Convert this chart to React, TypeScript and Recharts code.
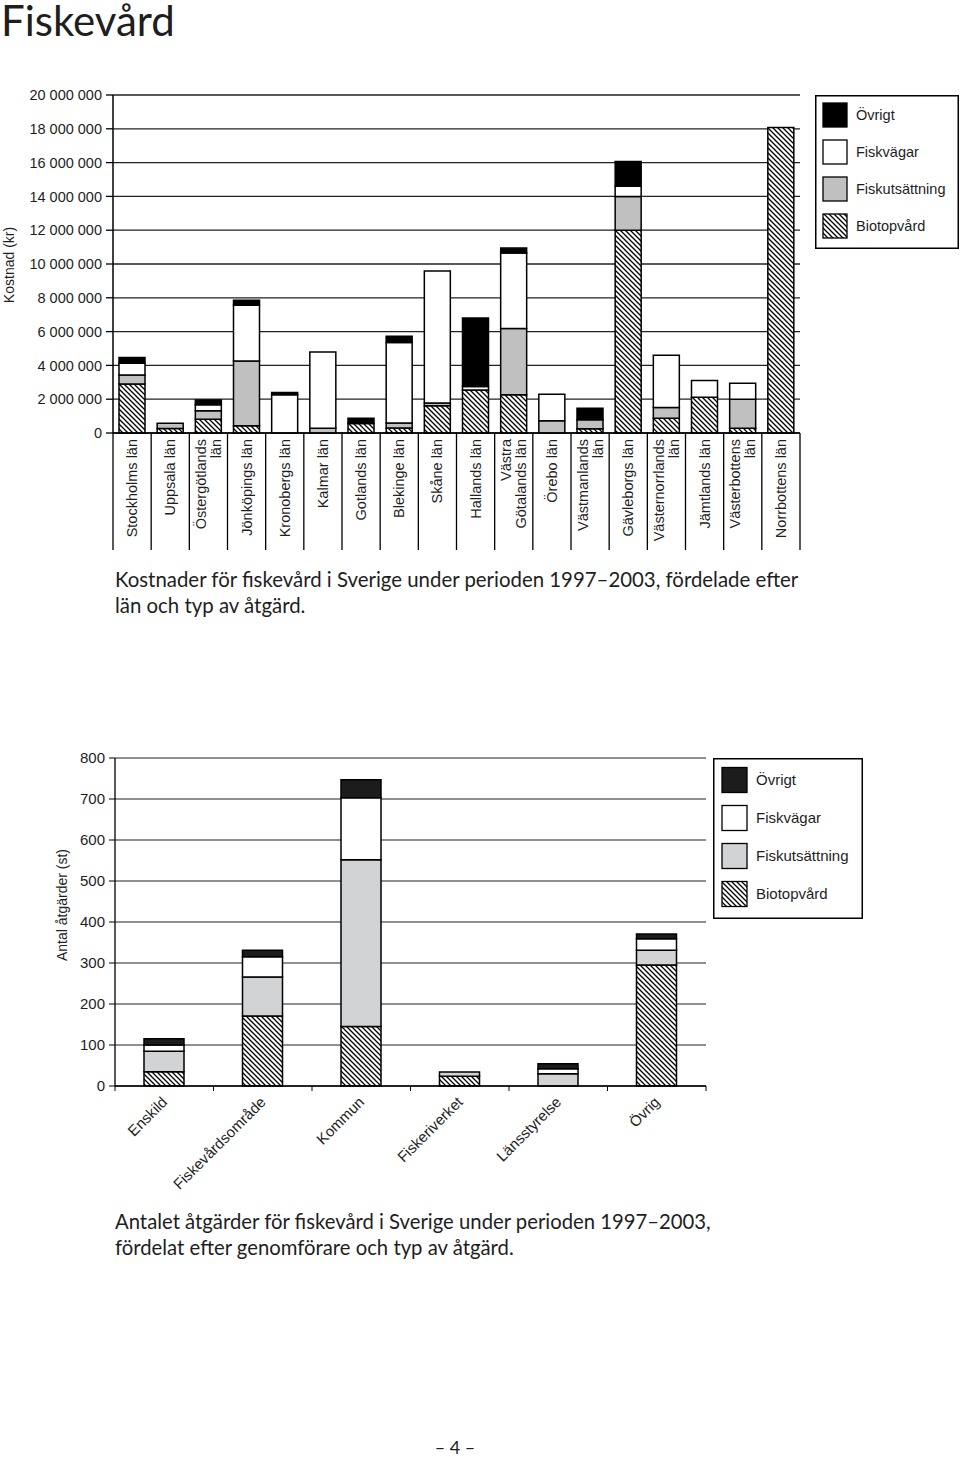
import React from 'react';
import { BarChart, Bar, XAxis, YAxis, CartesianGrid, Legend, Label } from 'recharts';

// ---------- Data: chart 1 (cost per county, kr) ----------
const counties = [
  'Stockholms län', 'Uppsala län', 'Östergötlands län', 'Jönköpings län', 'Kronobergs län',
  'Kalmar län', 'Gotlands län', 'Blekinge län', 'Skåne län', 'Hallands län',
  'Västra Götalands län', 'Örebo län', 'Västmanlands län', 'Gävleborgs län',
  'Västernorrlands län', 'Jämtlands län', 'Västerbottens län', 'Norrbottens län',
];
const countyTickLabels = [
  'Stockholms län', 'Uppsala län', 'Östergötlands\nlän', 'Jönköpings län', 'Kronobergs län',
  'Kalmar län', 'Gotlands län', 'Blekinge län', 'Skåne län', 'Hallands län',
  'Västra\nGötalands län', 'Örebo län', 'Västmanlands\nlän', 'Gävleborgs län',
  'Västernorrlands\nlän', 'Jämtlands län', 'Västerbottens\nlän', 'Norrbottens län',
];
const costBiotop = [2900000, 270000, 820000, 430000, 0, 0, 560000, 290000, 1610000, 2550000, 2260000, 0, 250000, 12000000, 880000, 2120000, 280000, 18070000];
const costFiskut = [530000, 300000, 490000, 3830000, 0, 280000, 0, 300000, 160000, 0, 3930000, 730000, 530000, 2000000, 630000, 0, 1720000, 0];
const costFiskvag = [690000, 0, 360000, 3300000, 2260000, 4510000, 0, 4770000, 7820000, 200000, 4460000, 1570000, 0, 600000, 3090000, 980000, 950000, 0];
const costOvrigt = [350000, 0, 290000, 300000, 140000, 0, 320000, 360000, 0, 4050000, 290000, 0, 690000, 1470000, 0, 0, 0, 0];
const costTicks = [0, 2000000, 4000000, 6000000, 8000000, 10000000, 12000000, 14000000, 16000000, 18000000, 20000000];

// ---------- Data: chart 2 (number of measures per actor) ----------
const actors = ['Enskild', 'Fiskevårdsområde', 'Kommun', 'Fiskeriverket', 'Länsstyrelse', 'Övrig'];
const cntBiotop = [35, 171, 145, 24, 0, 295];
const cntFiskut = [50, 95, 407, 10, 30, 36];
const cntFiskvag = [15, 49, 151, 0, 12, 28];
const cntOvrigt = [15, 16, 44, 0, 12, 12];
const countTicks = [0, 100, 200, 300, 400, 500, 600, 700, 800];

const seriesNames = ['Övrigt', 'Fiskvägar', 'Fiskutsättning', 'Biotopvård'];

const data1 = counties.map((c, i) => ({
  name: c,
  biotop: costBiotop[i],
  fiskut: costFiskut[i],
  fiskvag: costFiskvag[i],
  ovrigt: costOvrigt[i],
}));
const data2 = actors.map((a, i) => ({
  name: a,
  biotop: cntBiotop[i],
  fiskut: cntFiskut[i],
  fiskvag: cntFiskvag[i],
  ovrigt: cntOvrigt[i],
}));

// ---------- Layout ----------
const AXIS_FONT = '"Liberation Sans", Arial, sans-serif';
const TEXT_FONT = 'Lato, "Open Sans", sans-serif';
const INK = '#1e1e1e';

const C1 = { w: 960, h: 480, top: 80, margin: { top: 15, right: 160, bottom: 10, left: 0 }, yw: 113, xh: 117 };
const C2 = { w: 960, h: 470, top: 740, margin: { top: 18, right: 254, bottom: 10, left: 0 }, yw: 115, xh: 114 };
const STEP1 = (C1.w - C1.margin.left - C1.margin.right - C1.yw) / counties.length;
const STEP2 = (C2.w - C2.margin.left - C2.margin.right - C2.yw) / actors.length;

const fmtKr = (v: number) => (v === 0 ? '0' : String(v).replace(/\B(?=(\d{3})+(?!\d))/g, ' '));

const HatchDef = ({ id }: { id: string }) => (
  <pattern id={id} patternUnits="userSpaceOnUse" width={5} height={5}>
    <rect width={5} height={5} fill="#fff" />
    <path d="M0,0 L5,5 M-1,4 L1,6 M4,-1 L6,1" stroke="#000" strokeWidth={1.3} />
  </pattern>
);

const CountyTick = (props: any) => {
  const { x, y, payload, index } = props;
  const idx = counties.indexOf(payload.value);
  const lines = countyTickLabels[idx >= 0 ? idx : index].split('\n');
  const half = STEP1 / 2;
  const gap = 15;
  return (
    <g>
      <line x1={x - half} y1={y} x2={x - half} y2={y + 117} stroke="#000" strokeWidth={1.3} />
      {idx === counties.length - 1 && (
        <line x1={x + half} y1={y} x2={x + half} y2={y + 117} stroke="#000" strokeWidth={1.3} />
      )}
      <text
        transform={`translate(${x},${y + 6}) rotate(-90)`}
        textAnchor="end"
        fontSize={14.5}
        fontFamily={AXIS_FONT}
        fill={INK}
      >
        {lines.map((l, i) => (
          <tspan key={i} x={0} y={(i - (lines.length - 1) / 2) * gap + 5}>
            {l}
          </tspan>
        ))}
      </text>
    </g>
  );
};

const ActorTick = (props: any) => {
  const { x, y, payload } = props;
  const idx = actors.indexOf(payload.value);
  const half = STEP2 / 2;
  return (
    <g>
      <line x1={x - half} y1={y} x2={x - half} y2={y + 5} stroke="#000" strokeWidth={1} />
      {idx === actors.length - 1 && (
        <line x1={x + half} y1={y} x2={x + half} y2={y + 5} stroke="#000" strokeWidth={1} />
      )}
      <text
        transform={`translate(${x + 4},${y + 17}) rotate(-45)`}
        textAnchor="end"
        fontSize={15}
        fontFamily={AXIS_FONT}
        fill={INK}
      >
        {payload.value}
      </text>
    </g>
  );
};

const LegendBox = ({ w, h, sw, x0, tx, rows, fs, hatchId, dark, grey }: any) => (
  <svg width={w} height={h} style={{ display: 'block' }}>
    <defs>
      <HatchDef id={hatchId} />
    </defs>
    <rect x={0.75} y={0.75} width={w - 1.5} height={h - 1.5} fill="#fff" stroke="#000" strokeWidth={1.5} />
    {seriesNames.map((n, i) => {
      const fill = i === 0 ? dark : i === 1 ? '#fff' : i === 2 ? grey : `url(#${hatchId})`;
      return (
        <g key={n}>
          <rect x={x0} y={rows[i] - sw / 2} width={sw} height={sw} fill={fill} stroke="#000" strokeWidth={1.3} />
          <text x={tx} y={rows[i] + fs * 0.36} fontSize={fs} fontFamily={AXIS_FONT} fill={INK}>
            {n}
          </text>
        </g>
      );
    })}
  </svg>
);

const YLabel = ({ viewBox, text, dx, dy }: any) => {
  const cx = viewBox.x + dx;
  const cy = viewBox.y + viewBox.height / 2 + dy;
  return (
    <text
      transform={`translate(${cx},${cy}) rotate(-90)`}
      textAnchor="middle"
      fontSize={14}
      fontFamily={AXIS_FONT}
      fill={INK}
      dy={5}
    >
      {text}
    </text>
  );
};

const barStroke = { stroke: '#000', strokeWidth: 1.5 };

export default function App() {
  return (
    <div style={{ position: 'absolute', left: 0, top: 0, width: 960, height: 1457, background: '#fff', overflow: 'hidden' }}>
      <div style={{ position: 'absolute', left: 1, top: 1, fontFamily: TEXT_FONT, fontSize: 42, color: INK, lineHeight: '38px' }}>
        Fiskevård
      </div>

      <div style={{ position: 'absolute', left: 0, top: C1.top }}>
        <BarChart width={C1.w} height={C1.h} data={data1} margin={C1.margin} barSize={26}>
          <defs>
            <HatchDef id="hatch1" />
          </defs>
          <CartesianGrid horizontal vertical={false} stroke="#222" strokeWidth={1.3} />
          <XAxis
            dataKey="name"
            interval={0}
            height={C1.xh}
            tickSize={0}
            tickMargin={0}
            tickLine={false}
            axisLine={{ stroke: '#000', strokeWidth: 1.5 }}
            tick={(p: any) => <CountyTick {...p} />}
          />
          <YAxis
            width={C1.yw}
            domain={[0, 20000000]}
            ticks={costTicks}
            interval={0}
            tickFormatter={fmtKr}
            tickSize={7}
            tickMargin={4}
            tickLine={{ stroke: '#000', strokeWidth: 1.3 }}
            axisLine={{ stroke: '#000', strokeWidth: 1.5 }}
            tick={{ fontSize: 14.5, fontFamily: AXIS_FONT, fill: INK }}
          >
            <Label content={(p: any) => <YLabel {...p} text="Kostnad (kr)" dx={9} dy={1} />} />
          </YAxis>
          <YAxis
            yAxisId="frame"
            orientation="right"
            width={0}
            domain={[0, 1]}
            tick={false}
            tickLine={false}
            axisLine={{ stroke: '#000', strokeWidth: 1.5 }}
          />
          <Legend
            layout="horizontal"
            verticalAlign="middle"
            align="center"
            wrapperStyle={{ position: 'absolute', left: 815, top: 15, width: 144, height: 154 }}
            content={() => (
              <LegendBox w={144} h={154} sw={24} x0={8} tx={41} rows={[20, 57, 94, 131]} fs={14.5} hatchId="hatchL1" dark="#000" grey="#c0c0c0" />
            )}
          />
          <Bar dataKey="biotop" stackId="a" fill="url(#hatch1)" {...barStroke} isAnimationActive={false} />
          <Bar dataKey="fiskut" stackId="a" fill="#c0c0c0" {...barStroke} isAnimationActive={false} />
          <Bar dataKey="fiskvag" stackId="a" fill="#fff" {...barStroke} isAnimationActive={false} />
          <Bar dataKey="ovrigt" stackId="a" fill="#000" {...barStroke} isAnimationActive={false} />
        </BarChart>
      </div>

      <div style={{ position: 'absolute', left: 115, top: 566, width: 700, fontFamily: TEXT_FONT, fontSize: 20.4, lineHeight: '26px', color: INK, whiteSpace: 'nowrap' }}>
        Kostnader för fiskevård i Sverige under perioden 1997–2003, fördelade efter
        <br />
        län och typ av åtgärd.
      </div>

      <div style={{ position: 'absolute', left: 0, top: C2.top }}>
        <BarChart width={C2.w} height={C2.h} data={data2} margin={C2.margin} barSize={40}>
          <defs>
            <HatchDef id="hatch2" />
          </defs>
          <CartesianGrid horizontal vertical={false} stroke="#222" strokeWidth={1.2} />
          <XAxis
            dataKey="name"
            interval={0}
            height={C2.xh}
            tickSize={0}
            tickMargin={0}
            tickLine={false}
            axisLine={{ stroke: '#000', strokeWidth: 1.3 }}
            tick={(p: any) => <ActorTick {...p} />}
          />
          <YAxis
            width={C2.yw}
            domain={[0, 800]}
            ticks={countTicks}
            interval={0}
            tickSize={6}
            tickMargin={4}
            tickLine={{ stroke: '#000', strokeWidth: 1 }}
            axisLine={{ stroke: '#000', strokeWidth: 1.3 }}
            tick={{ fontSize: 15, fontFamily: AXIS_FONT, fill: INK }}
          >
            <Label content={(p: any) => <YLabel {...p} text="Antal åtgärder (st)" dx={62} dy={-17} />} />
          </YAxis>
          <YAxis
            yAxisId="frame"
            orientation="right"
            width={0}
            domain={[0, 1]}
            tick={false}
            tickLine={false}
            axisLine={{ stroke: '#000', strokeWidth: 1.3 }}
          />
          <Legend
            layout="horizontal"
            verticalAlign="middle"
            align="center"
            wrapperStyle={{ position: 'absolute', left: 713, top: 18, width: 150, height: 161 }}
            content={() => (
              <LegendBox w={150} h={161} sw={25} x0={9} tx={43} rows={[22, 60, 98, 136]} fs={15} hatchId="hatchL2" dark="#1c1c1c" grey="#d1d3d5" />
            )}
          />
          <Bar dataKey="biotop" stackId="b" fill="url(#hatch2)" {...barStroke} isAnimationActive={false} />
          <Bar dataKey="fiskut" stackId="b" fill="#d1d3d5" {...barStroke} isAnimationActive={false} />
          <Bar dataKey="fiskvag" stackId="b" fill="#fff" {...barStroke} isAnimationActive={false} />
          <Bar dataKey="ovrigt" stackId="b" fill="#1c1c1c" {...barStroke} isAnimationActive={false} />
        </BarChart>
      </div>

      <div style={{ position: 'absolute', left: 115, top: 1208, width: 640, fontFamily: TEXT_FONT, fontSize: 20.3, lineHeight: '26px', color: INK, whiteSpace: 'nowrap' }}>
        Antalet åtgärder för fiskevård i Sverige under perioden 1997–2003,
        <br />
        fördelat efter genomförare och typ av åtgärd.
      </div>

      <div style={{ position: 'absolute', left: 0, width: 910, top: 1436, textAlign: 'center', fontFamily: TEXT_FONT, fontSize: 18, color: INK }}>
        – 4 –
      </div>
    </div>
  );
}
